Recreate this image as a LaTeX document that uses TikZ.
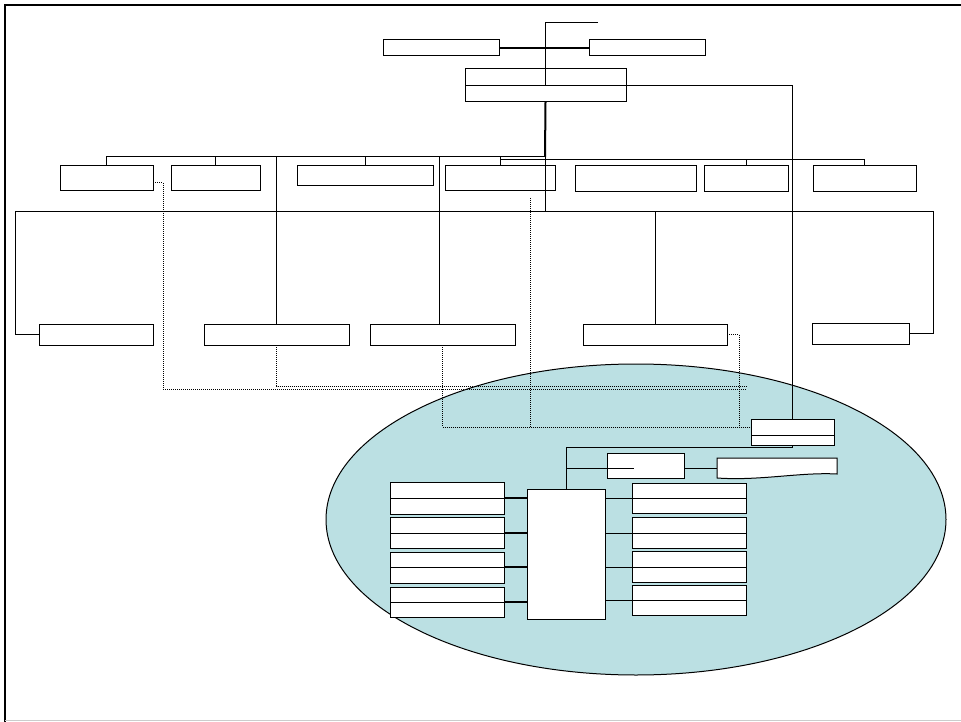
\documentclass[tikz,border=0pt]{standalone}
\usetikzlibrary{shapes.geometric}
\definecolor{ellfill}{RGB}{187,224,227}
\tikzset{
  box/.style={draw, fill=white, line width=1pt, inner sep=0pt, outer sep=0pt, anchor=north west},
  conn/.style={line width=1pt},
  heavy/.style={line width=2pt},
  dotline/.style={line width=1pt, dash pattern=on 1pt off 1pt},
}
\newcommand{\mybox}[5]{\node[box, minimum width={(#4-#2)*1pt}, minimum height={(#5-#3)*1pt}] (#1) at (#2,#3) {};}
\newcommand{\mydiv}[2]{\draw[conn] (#1.west |- 0,#2) -- (#1.east |- 0,#2);}
\begin{document}
\begin{tikzpicture}[x=1pt,y=-1pt]
\useasboundingbox (0,0) rectangle (961,722);
% frame
\draw[line width=2.5pt] (961,5) -- (5,5) -- (5,722);
\draw[black!20, line width=1.5pt] (5,720.5) -- (961,720.5);

% ellipse
\node[ellipse, draw, fill=ellfill, line width=1pt, minimum width=620pt, minimum height=311pt, inner sep=0pt] (ell) at (636,519.5) {};

% top boxes
\mybox{TL}{383}{40}{499}{56}
\mybox{TR}{589}{40}{705}{56}
\mybox{TC}{465}{69}{626}{102}
\mydiv{TC}{86}

% second row
\mybox{B1}{60}{166}{153}{191}
\mybox{B2}{171}{166}{260}{191}
\mybox{B3}{297}{166}{433}{186}
\mybox{B4}{445}{166}{555}{191}
\mybox{B5}{575}{166}{696}{192}
\mybox{B6}{704}{166}{788}{192}
\mybox{B7}{813}{166}{916}{192}

% third row
\mybox{L1}{39}{324}{153}{345}
\mybox{L2}{204}{324}{349}{345}
\mybox{L3}{370}{324}{515}{345}
\mybox{L4}{583}{324}{727}{345}
\mybox{L5}{812}{323}{909}{344}

% ellipse boxes
\mybox{E1}{751}{419}{834}{445}
\mydiv{E1}{435}
\mybox{C}{527}{489}{605}{619}

\mybox{LB1}{390}{482}{504}{514}
\mybox{LB2}{390}{517}{504}{548}
\mybox{LB3}{390}{552}{504}{583}
\mybox{LB4}{390}{587}{504}{617}
\mydiv{LB1}{498}
\mydiv{LB2}{533}
\mydiv{LB3}{567}
\mydiv{LB4}{602}

\mybox{RB1}{632}{483}{746}{513}
\mybox{RB2}{632}{517}{746}{548}
\mybox{RB3}{632}{551}{746}{582}
\mybox{RB4}{632}{585}{746}{615}
\mydiv{RB1}{498}
\mydiv{RB2}{533}
\mydiv{RB3}{567}
\mydiv{RB4}{600}

% top connectors
\coordinate (topend) at (598,23);
\draw[conn] (topend) -- (545,23) -- (545,86) -| (E1.north);
\draw[heavy] (TL.east) -- (TR.west);
\draw[heavy] (TC.south) -- (545,157);
\draw[conn] (545,157) -- (545,212);

% buses of second row
\draw[conn] (B1.north) |- (545,157);
\draw[conn] (B2.north) -- (B2.north |- 0,157);
\draw[conn] (B3.north) -- (B3.north |- 0,157);
\draw[conn] (B4.north) -- (B4.north |- 0,157);
\draw[conn] (500,160) -| (B7.north);
\draw[conn] (B6.north) -- (B6.north |- 0,160);

% verticals to third row
\draw[conn] (L2.north |- 0,157) -- (L2.north);
\draw[conn] (439,157) -- (L3.north west -| 439,0);
\draw[conn] (L1.west) -| (15,212) -- (933,212) |- (L5.east);
\draw[conn] (L4.north) -- (L4.north |- 0,212);

% dotted links
\coordinate (d1) at (747,389);
\coordinate (d2) at (747,386);
\draw[dotline] (B1.east |- 0,183) -| (163,389) -- (d1);
\draw[dotline] (L2.south) |- (d2);
\draw[dotline] (L3.south) |- (E1.west |- 0,427);
\draw[dotline] (530,198) -- (530,427);
\draw[dotline] (L4.east) -| (739,427);

% inside ellipse
\draw[conn] (E1.south) -- ++(0,2) -| (C.north);
\coordinate (E3w) at (717,468);
\draw[conn] (566,468) -- (E3w);
\mybox{E2}{607}{453}{684}{478}
\draw[conn] (E2.west) ++(0,2.5) -- ++(27,0);
\draw[line width=1pt, fill=white] (717,458) -- (837,458) -- (837,474) .. controls (800,472) and (760,481) .. (E3w |- 0,478) -- cycle;

\foreach \y in {498,533,567,602} \draw[heavy] (LB1.east |- 0,\y) -- (C.west |- 0,\y);
\foreach \y in {498,533,567,600} \draw[conn] (C.east |- 0,\y) -- (RB1.west |- 0,\y);
\end{tikzpicture}
\end{document}
